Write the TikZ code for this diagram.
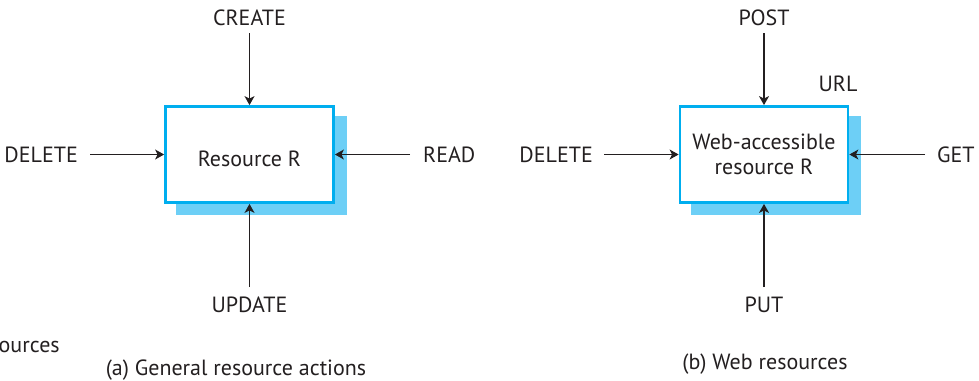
\documentclass[tikz,border=0pt]{standalone}
\usepackage{fontspec}
\setmainfont{PT Sans}
\usepackage{xcolor}
\usepackage{tikz}
\usetikzlibrary{arrows.meta,positioning,calc,backgrounds}

\definecolor{rescyan}{HTML}{00AEEF}
\definecolor{resshade}{HTML}{6DCFF6}
\definecolor{inkdark}{HTML}{231F20}

\tikzset{
  resbox/.style={draw=rescyan, line width=2.8pt, fill=white, minimum width=168pt,
    minimum height=96pt, inner sep=0pt, align=center, text=inkdark},
  verb/.style={inner sep=0pt, text=inkdark},
  act/.style={->, draw=inkdark, line width=1.1pt},
}

\begin{document}
\begin{tikzpicture}[>={Stealth[length=9pt,width=10pt,inset=2.5pt]}, x=1pt, y=-1pt,
    font=\fontsize{22}{25}\selectfont]
  \useasboundingbox (0,0) rectangle (979,380);
  % (a) general resource
  \node[resbox, text height=25pt, text depth=2pt] (resA) at (249.5,154.5) {Resource R};
  \node[verb, anchor=south] (createA) at (249.5,26) {CREATE};
  \node[verb, anchor=east] (delA) at (78,154.5) {DELETE};
  \node[verb, anchor=west] (readA) at (423,154.5) {READ};
  \node[verb, anchor=north] (updA) at (249.5,297) {UPDATE};
  \draw[act, shorten <=7pt] (createA) -- (resA);
  \draw[act, shorten <=12pt] (delA) -- (resA);
  \draw[act, shorten <=13pt] (readA) -- (resA);
  \draw[act, shorten <=10pt] (updA) -- (resA);
  % (b) web resource
  \node[resbox] (resB) at (764,154.5) {Web-accessible\\resource R};
  \node[verb, anchor=south] (postB) at (764,26) {POST};
  \node[verb, anchor=south] (urlB) at (838,92) {URL};
  \node[verb, anchor=east] (delB) at (593,154.5) {DELETE};
  \node[verb, anchor=west] (getB) at (937,154.5) {GET};
  \node[verb, anchor=north] (putB) at (764,297) {PUT};
  \draw[act, shorten <=7pt] (postB) -- (resB);
  \draw[act, shorten <=11pt] (delB) -- (resB);
  \draw[act, shorten <=12pt] (getB) -- (resB);
  \draw[act, shorten <=10pt] (putB) -- (resB);
  % drop shadows behind both boxes
  \begin{scope}[on background layer]
    \fill[resshade] ([shift={(12,11)}]resA.south west) rectangle ([shift={(12,11)}]resA.north east);
    \fill[resshade] ([shift={(12,11)}]resB.south west) rectangle ([shift={(12,11)}]resB.north east);
  \end{scope}
  % captions
  \node[verb, anchor=base west] (capPrev) at (-1.5,352) {ources};
  \node[verb, anchor=base] (capA) at (236,375) {(a) General resource actions};
  \node[verb, anchor=base] (capB) at (765,369) {(b) Web resources};
\end{tikzpicture}
\end{document}
